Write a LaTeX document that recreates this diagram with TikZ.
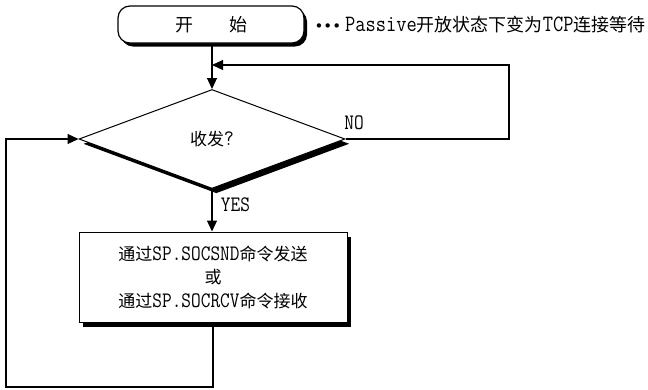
\documentclass[tikz,border=0pt]{standalone}
\usepackage{fontspec}
\setmainfont{Noto Sans CJK SC}
\newfontfamily\lat[FakeStretch=0.85,Scale=1.3]{Latin Modern Mono}
\newfontfamily\sym{DejaVu Sans}
\usetikzlibrary{shapes.geometric,arrows.meta,shadows}

\begin{document}
\begin{tikzpicture}[x=1pt, y=-1pt, >={Triangle[length=11pt,width=10pt]}, line width=1.1pt,
  terminal/.style={draw, fill=white, line width=1.2pt, rounded corners=12pt, minimum width=186pt, minimum height=37pt, inner sep=0pt, font=\fontsize{18}{20}\selectfont, drop shadow={opacity=1, fill=black, shadow xshift=3pt, shadow yshift=-3.5pt}},
  decision/.style={draw, fill=white, line width=1pt, diamond, minimum width=266pt, minimum height=99pt, inner sep=0pt, font=\fontsize{17}{20}\selectfont, drop shadow={opacity=1, fill=black, shadow xshift=4.3pt, shadow yshift=-4.8pt}},
  process/.style={draw, fill=white, line width=1pt, minimum width=268pt, minimum height=90pt, inner sep=0pt, align=center, font=\fontsize{17}{23.5}\selectfont, drop shadow={opacity=1, fill=black, shadow xshift=4pt, shadow yshift=-5pt}},
  lbl/.style={inner sep=0pt, font=\fontsize{17}{20}\selectfont}]

\useasboundingbox (0,0) rectangle (648,389);

% Nodi del diagramma
\node[terminal] (start) at (211,24.5) {开\hspace{2em}始};
\node[lbl, anchor=west, font=\fontsize{18}{20}\selectfont] (note) at (314,25) {{\sym\fontsize{15}{16}\selectfont •••} {\lat Passive}开放状态下变为{\lat TCP}连接等待};

\node[decision] (decide) at (212,139) {收发{\lat ?}};
\node[process] (action) at (213,277) {通过{\lat SP.SOCSND}命令发送\\或\\通过{\lat SP.SOCRCV}命令接收};

\node[lbl] (no) at (354,123) {\lat NO};
\node[lbl] (yes) at (235.5,205) {\lat YES};

% Punti dei ritorni
\coordinate (merge) at (212,65);
\coordinate (loopR) at (509,139);
\coordinate (loopL) at (6,387);

% Archi
\draw[->] (decide.north |- start.south) -- (decide.north);
\draw[->] (decide.south) -- (decide.south |- action.north);
\draw[->] (decide.east) -- (loopR) |- (merge);
\draw[->] (action.south) |- (loopL) |- (decide.west);

\end{tikzpicture}
\end{document}
